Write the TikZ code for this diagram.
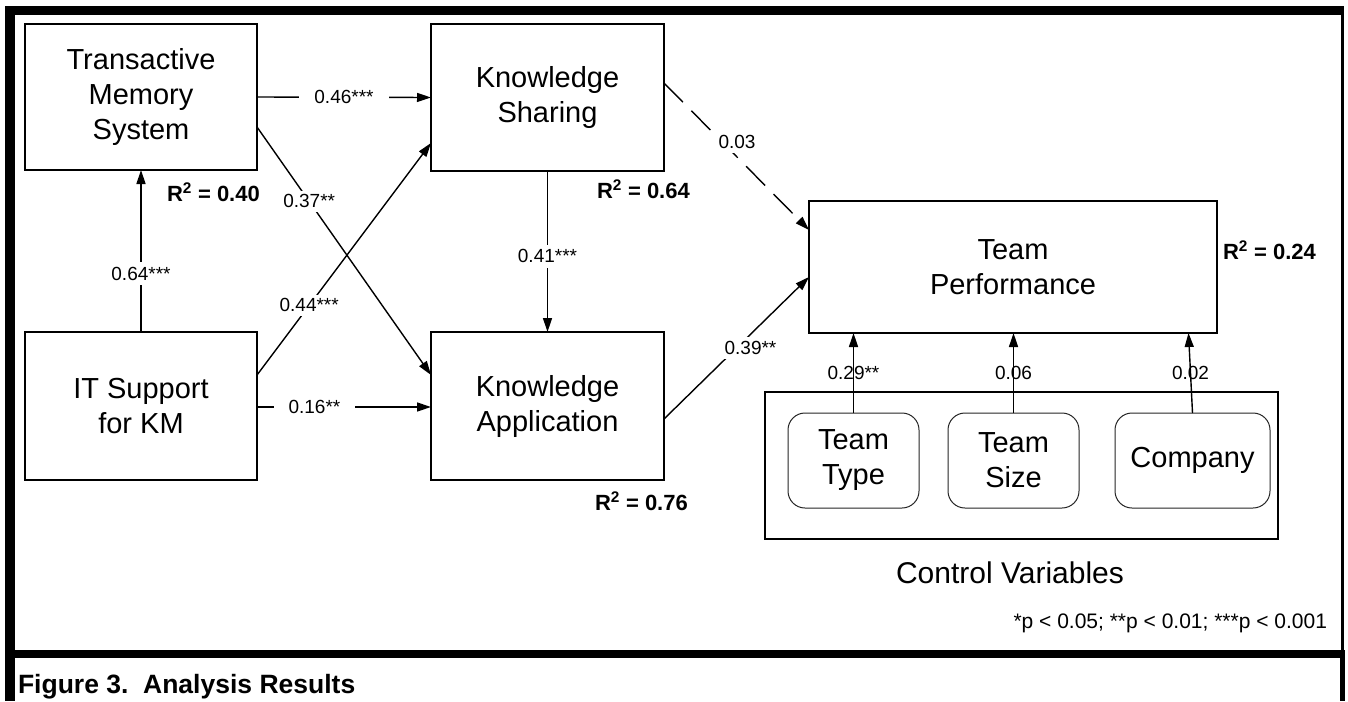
\documentclass[tikz,border=0pt]{standalone}
\usepackage{fontspec}
\setmainfont{Liberation Sans}
\usetikzlibrary{arrows.meta,calc}
\begin{document}
\begin{tikzpicture}[x=1pt, y=-1pt,
  every node/.style={inner sep=0pt, outer sep=0pt},
  var/.style={draw, line width=1.5pt, align=center, font=\fontsize{29}{35}\selectfont},
  ctl/.style={draw=black!85, line width=1pt, rounded corners=17pt,
    minimum width=131pt, minimum height=95pt, align=center,
    font=\fontsize{29}{35}\selectfont},
  link/.style={line width=1.4pt, -{Triangle[length=14pt,width=9pt]}},
  lbl/.style={fill=white, inner xsep=15pt, inner ysep=2pt, font=\fontsize{19}{22}\selectfont},
  vlbl/.style={fill=white, inner xsep=2pt, inner ysep=5pt, font=\fontsize{19}{22}\selectfont},
  dlbl/.style={fill=white, inner sep=4pt, font=\fontsize{19}{22}\selectfont},
  clbl/.style={font=\fontsize{19}{22}\selectfont},
  rsq/.style={anchor=base west, font=\fontsize{22}{25}\bfseries\selectfont}]

\useasboundingbox (0,0) rectangle (1348,701);
\fill[white] (0,0) rectangle (1348,701);

% outer frame and caption band
\fill (5,6) rectangle (1343.5,15);
\fill (5,6) rectangle (15,701);
\fill (1341,6) rectangle (1343.5,650);
\fill (5,650) rectangle (1345,658);
\fill (1340,650) rectangle (1345,701);

% constructs
\node[var, minimum width=232pt, minimum height=146pt] (tms) at (141,97) {Transactive\\Memory\\System};
\node[var, minimum width=232pt, minimum height=148pt] (its) at (141,406) {IT Support\\for KM};
\node[var, minimum width=233pt, minimum height=147pt] (ks) at (547.5,97.5) {Knowledge\\Sharing};
\node[var, minimum width=233pt, minimum height=148pt] (ka) at (547.5,406) {Knowledge\\Application};
\node[var, minimum width=408pt, minimum height=132pt] (tp) at (1013,267) {Team\\Performance};

% control variables
\node[draw, line width=1.5pt, minimum width=513pt, minimum height=147pt] (cv) at (1021.5,465.5) {};
\node[ctl] (tt) at (853.5,460.5) {Team\\Type};
\node[ctl] (tsz) at (1013.5,460.5) {Team\\Size};
\node[ctl, minimum width=155pt] (co) at (1192.5,460.5) {Company};
\node[anchor=base, font=\fontsize{30}{35}\selectfont] (cvl) at (1010,583) {Control Variables};

% explained variance
\node[rsq] (r1) at (167,201) {R\textsuperscript{2} = 0.40};
\node[rsq] (r2) at (597,198) {R\textsuperscript{2} = 0.64};
\node[rsq] (r3) at (595,510) {R\textsuperscript{2} = 0.76};
\node[rsq] (r4) at (1223,259) {R\textsuperscript{2} = 0.24};

% paths
\draw[link] (tms.east) -- node[lbl]{0.46***} (ks.west);
\draw[link] ($(tms.east)+(0,30)$) -- node[dlbl,pos=0.3]{0.37**} ($(ka.west)+(0,-31)$);
\draw[link] ($(its.east)+(0,-31)$) -- node[dlbl,pos=0.3]{0.44***} ($(ks.west)+(0,45.5)$);
\draw[link] ($(its.east)+(0,1)$) -- node[lbl,pos=0.33]{0.16**} ($(ka.west)+(0,1)$);
\draw[link] (its.north) -- node[vlbl,pos=0.36]{0.64***} (tms.south);
\draw[link] (ks.south) -- node[vlbl,pos=0.53]{0.41***} (ka.north);
\draw[link, dash pattern=on 27pt off 12pt] ($(ks.east)+(0,-14.5)$) -- node[dlbl,pos=0.4,xshift=15pt]{0.03} ($(tp.west)+(0,-37)$);
\draw[link] ($(ka.east)+(0,13)$) -- node[dlbl,pos=0.5,xshift=14pt]{0.39**} ($(tp.west)+(0,10)$);
\draw[link] (tt.north) -- node[clbl]{0.29**} (tt.north |- tp.south);
\draw[link] (tsz.north) -- node[clbl]{0.06} (tsz.north |- tp.south);
\draw[link] (co.north) -- node[clbl]{0.02} ($(co.north |- tp.south)+(-4,0)$);

% footnote and caption
\node[anchor=base east, font=\fontsize{21}{24}\selectfont] (fn) at (1327,628) {*p < 0.05; **p < 0.01; ***p < 0.001};
\node[anchor=base west, font=\fontsize{26.5}{30}\bfseries\selectfont] (cap) at (18,693) {Figure 3.\ \ Analysis Results};
\end{tikzpicture}
\end{document}
